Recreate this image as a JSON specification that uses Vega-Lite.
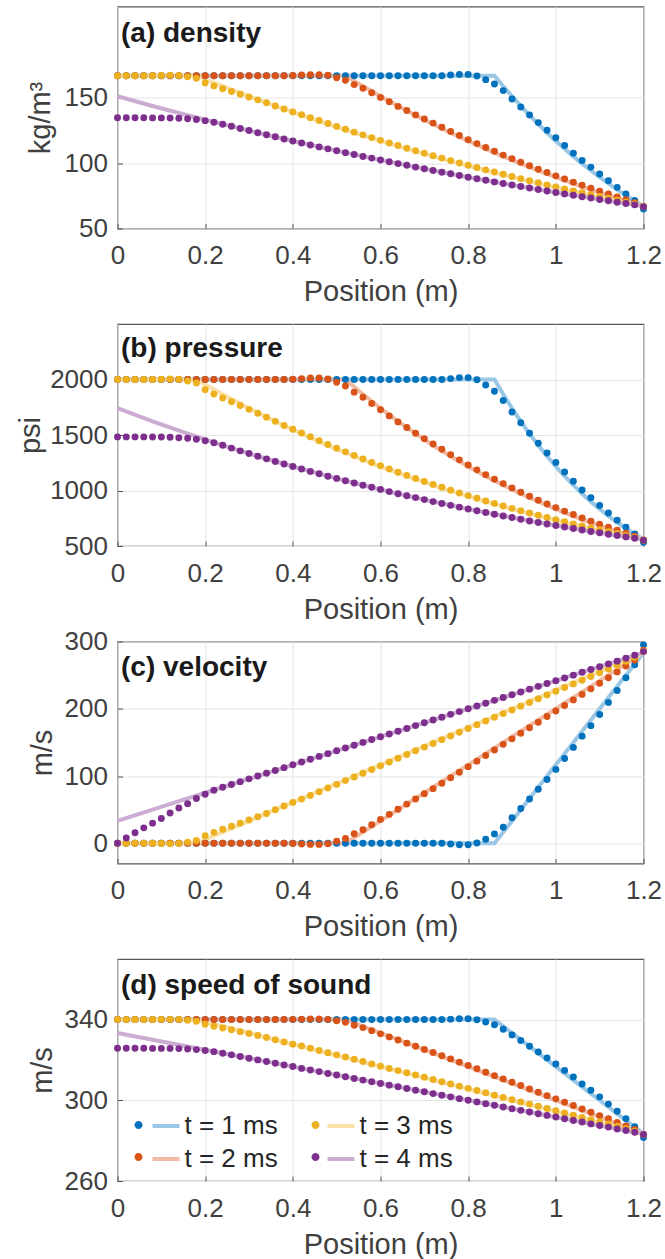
{
"$schema": "https://vega.github.io/schema/vega-lite/v6.json",
"padding": {"left": 15.5, "top": 5.5, "right": 4, "bottom": 0},
"background": "white",
"datasets": {
"lines": [
{"t":1,"x":0,"rho":167,"p":2000,"u":0,"c":340},{"t":1,"x":0.86,"rho":167,"p":2000,"u":0,"c":340},
{"t":1,"x":0.88,"rho":158.97,"p":1866.7,"u":16.67,"c":336.67},{"t":1,"x":0.9,"rho":151.26,"p":1741.1,"u":33.33,"c":333.33},{"t":1,"x":0.92,"rho":143.84,"p":1622.8,"u":50,"c":330},{"t":1,"x":0.94,"rho":136.72,"p":1511.5,"u":66.67,"c":326.67},{"t":1,"x":0.96,"rho":129.89,"p":1406.8,"u":83.33,"c":323.33},{"t":1,"x":0.98,"rho":123.33,"p":1308.4,"u":100,"c":320},{"t":1,"x":1.0,"rho":117.04,"p":1215.9,"u":116.67,"c":316.67},{"t":1,"x":1.02,"rho":111.01,"p":1129.1,"u":133.33,"c":313.33},{"t":1,"x":1.04,"rho":105.23,"p":1047.7,"u":150,"c":310},{"t":1,"x":1.06,"rho":99.69,"p":971.3,"u":166.67,"c":306.67},{"t":1,"x":1.08,"rho":94.39,"p":899.7,"u":183.33,"c":303.33},{"t":1,"x":1.1,"rho":89.31,"p":832.8,"u":200,"c":300},{"t":1,"x":1.12,"rho":84.46,"p":770.1,"u":216.67,"c":296.67},{"t":1,"x":1.14,"rho":79.82,"p":711.6,"u":233.33,"c":293.33},{"t":1,"x":1.16,"rho":75.39,"p":656.8,"u":250,"c":290},{"t":1,"x":1.18,"rho":71.15,"p":605.8,"u":266.67,"c":286.67},{"t":1,"x":1.2,"rho":67.11,"p":558.2,"u":283.33,"c":283.33},
{"t":2,"x":0,"rho":167,"p":2000,"u":0,"c":340},{"t":2,"x":0.52,"rho":167,"p":2000,"u":0,"c":340},
{"t":2,"x":0.56,"rho":158.97,"p":1866.7,"u":16.67,"c":336.67},{"t":2,"x":0.6,"rho":151.26,"p":1741.1,"u":33.33,"c":333.33},{"t":2,"x":0.64,"rho":143.84,"p":1622.8,"u":50,"c":330},{"t":2,"x":0.68,"rho":136.72,"p":1511.5,"u":66.67,"c":326.67},{"t":2,"x":0.72,"rho":129.89,"p":1406.8,"u":83.33,"c":323.33},{"t":2,"x":0.76,"rho":123.33,"p":1308.4,"u":100,"c":320},{"t":2,"x":0.8,"rho":117.04,"p":1215.9,"u":116.67,"c":316.67},{"t":2,"x":0.84,"rho":111.01,"p":1129.1,"u":133.33,"c":313.33},{"t":2,"x":0.88,"rho":105.23,"p":1047.7,"u":150,"c":310},{"t":2,"x":0.92,"rho":99.69,"p":971.3,"u":166.67,"c":306.67},{"t":2,"x":0.96,"rho":94.39,"p":899.7,"u":183.33,"c":303.33},{"t":2,"x":1.0,"rho":89.31,"p":832.8,"u":200,"c":300},{"t":2,"x":1.04,"rho":84.46,"p":770.1,"u":216.67,"c":296.67},{"t":2,"x":1.08,"rho":79.82,"p":711.6,"u":233.33,"c":293.33},{"t":2,"x":1.12,"rho":75.39,"p":656.8,"u":250,"c":290},{"t":2,"x":1.16,"rho":71.15,"p":605.8,"u":266.67,"c":286.67},{"t":2,"x":1.2,"rho":67.11,"p":558.2,"u":283.33,"c":283.33},
{"t":3,"x":0,"rho":167,"p":2000,"u":0,"c":340},{"t":3,"x":0.18,"rho":167,"p":2000,"u":0,"c":340},
{"t":3,"x":0.24,"rho":158.97,"p":1866.7,"u":16.67,"c":336.67},{"t":3,"x":0.3,"rho":151.26,"p":1741.1,"u":33.33,"c":333.33},{"t":3,"x":0.36,"rho":143.84,"p":1622.8,"u":50,"c":330},{"t":3,"x":0.42,"rho":136.72,"p":1511.5,"u":66.67,"c":326.67},{"t":3,"x":0.48,"rho":129.89,"p":1406.8,"u":83.33,"c":323.33},{"t":3,"x":0.54,"rho":123.33,"p":1308.4,"u":100,"c":320},{"t":3,"x":0.6,"rho":117.04,"p":1215.9,"u":116.67,"c":316.67},{"t":3,"x":0.66,"rho":111.01,"p":1129.1,"u":133.33,"c":313.33},{"t":3,"x":0.72,"rho":105.23,"p":1047.7,"u":150,"c":310},{"t":3,"x":0.78,"rho":99.69,"p":971.3,"u":166.67,"c":306.67},{"t":3,"x":0.84,"rho":94.39,"p":899.7,"u":183.33,"c":303.33},{"t":3,"x":0.9,"rho":89.31,"p":832.8,"u":200,"c":300},{"t":3,"x":0.96,"rho":84.46,"p":770.1,"u":216.67,"c":296.67},{"t":3,"x":1.02,"rho":79.82,"p":711.6,"u":233.33,"c":293.33},{"t":3,"x":1.08,"rho":75.39,"p":656.8,"u":250,"c":290},{"t":3,"x":1.14,"rho":71.15,"p":605.8,"u":266.67,"c":286.67},{"t":3,"x":1.2,"rho":67.11,"p":558.2,"u":283.33,"c":283.33},
{"t":4,"x":0,"rho":151.26,"p":1741.1,"u":33.33,"c":333.33},{"t":4,"x":0.08,"rho":143.84,"p":1622.8,"u":50,"c":330},{"t":4,"x":0.16,"rho":136.72,"p":1511.5,"u":66.67,"c":326.67},{"t":4,"x":0.24,"rho":129.89,"p":1406.8,"u":83.33,"c":323.33},{"t":4,"x":0.32,"rho":123.33,"p":1308.4,"u":100,"c":320},{"t":4,"x":0.4,"rho":117.04,"p":1215.9,"u":116.67,"c":316.67},{"t":4,"x":0.48,"rho":111.01,"p":1129.1,"u":133.33,"c":313.33},{"t":4,"x":0.56,"rho":105.23,"p":1047.7,"u":150,"c":310},{"t":4,"x":0.64,"rho":99.69,"p":971.3,"u":166.67,"c":306.67},{"t":4,"x":0.72,"rho":94.39,"p":899.7,"u":183.33,"c":303.33},{"t":4,"x":0.8,"rho":89.31,"p":832.8,"u":200,"c":300},{"t":4,"x":0.88,"rho":84.46,"p":770.1,"u":216.67,"c":296.67},{"t":4,"x":0.96,"rho":79.82,"p":711.6,"u":233.33,"c":293.33},{"t":4,"x":1.04,"rho":75.39,"p":656.8,"u":250,"c":290},{"t":4,"x":1.12,"rho":71.15,"p":605.8,"u":266.67,"c":286.67},{"t":4,"x":1.2,"rho":67.11,"p":558.2,"u":283.33,"c":283.33}
],
"markers": [
{"t":1,"x":0,"rho":167,"p":2000,"u":0,"c":340},{"t":1,"x":0.02,"rho":167,"p":2000,"u":0,"c":340},{"t":1,"x":0.04,"rho":167,"p":2000,"u":0,"c":340},{"t":1,"x":0.06,"rho":167,"p":2000,"u":0,"c":340},{"t":1,"x":0.08,"rho":167,"p":2000,"u":0,"c":340},{"t":1,"x":0.1,"rho":167,"p":2000,"u":0,"c":340},{"t":1,"x":0.12,"rho":167,"p":2000,"u":0,"c":340},{"t":1,"x":0.14,"rho":167,"p":2000,"u":0,"c":340},{"t":1,"x":0.16,"rho":167,"p":2000,"u":0,"c":340},{"t":1,"x":0.18,"rho":167,"p":2000,"u":0,"c":340},{"t":1,"x":0.2,"rho":167,"p":2000,"u":0,"c":340},{"t":1,"x":0.22,"rho":167,"p":2000,"u":0,"c":340},{"t":1,"x":0.24,"rho":167,"p":2000,"u":0,"c":340},{"t":1,"x":0.26,"rho":167,"p":2000,"u":0,"c":340},{"t":1,"x":0.28,"rho":167,"p":2000,"u":0,"c":340},{"t":1,"x":0.3,"rho":167,"p":2000,"u":0,"c":340},{"t":1,"x":0.32,"rho":167,"p":2000,"u":0,"c":340},{"t":1,"x":0.34,"rho":167,"p":2000,"u":0,"c":340},{"t":1,"x":0.36,"rho":167,"p":2000,"u":0,"c":340},{"t":1,"x":0.38,"rho":167,"p":2000,"u":0,"c":340},{"t":1,"x":0.4,"rho":167,"p":2000,"u":0,"c":340},{"t":1,"x":0.42,"rho":167,"p":2000,"u":0,"c":340},{"t":1,"x":0.44,"rho":167,"p":2000,"u":0,"c":340},{"t":1,"x":0.46,"rho":167,"p":2000,"u":0,"c":340},{"t":1,"x":0.48,"rho":167,"p":2000,"u":0,"c":340},{"t":1,"x":0.5,"rho":167,"p":2000,"u":0,"c":340},{"t":1,"x":0.52,"rho":167,"p":2000,"u":0,"c":340},{"t":1,"x":0.54,"rho":167,"p":2000,"u":0,"c":340},{"t":1,"x":0.56,"rho":167,"p":2000,"u":0,"c":340},{"t":1,"x":0.58,"rho":167,"p":2000,"u":0,"c":340},{"t":1,"x":0.6,"rho":167,"p":2000,"u":0,"c":340},{"t":1,"x":0.62,"rho":167,"p":2000,"u":0,"c":340},{"t":1,"x":0.64,"rho":167,"p":2000,"u":0,"c":340},{"t":1,"x":0.66,"rho":167,"p":2000,"u":0,"c":340},{"t":1,"x":0.68,"rho":167,"p":2000,"u":0,"c":340},{"t":1,"x":0.7,"rho":167,"p":2000,"u":0,"c":340},{"t":1,"x":0.72,"rho":167,"p":2000,"u":0,"c":340},{"t":1,"x":0.74,"rho":167,"p":2000,"u":0,"c":340},
{"t":1,"x":0.76,"rho":167.5,"p":2008,"u":-1.0,"c":340.2},{"t":1,"x":0.78,"rho":168.0,"p":2017,"u":-2.0,"c":340.4},{"t":1,"x":0.8,"rho":168.0,"p":2017,"u":-2.0,"c":340.4},{"t":1,"x":0.82,"rho":166.8,"p":1997,"u":0.4,"c":339.9},{"t":1,"x":0.84,"rho":164.0,"p":1950,"u":6.1,"c":338.8},{"t":1,"x":0.86,"rho":160.7,"p":1894,"u":14.0,"c":337.4},{"t":1,"x":0.88,"rho":155.6,"p":1811,"u":24.0,"c":335.2},{"t":1,"x":0.9,"rho":149.2,"p":1707,"u":37.9,"c":332.4},{"t":1,"x":0.92,"rho":143.0,"p":1610,"u":51.8,"c":329.6},{"t":1,"x":0.94,"rho":137.0,"p":1516,"u":66.0,"c":326.8},{"t":1,"x":0.96,"rho":131.1,"p":1425,"u":80.3,"c":323.9},{"t":1,"x":0.98,"rho":125.3,"p":1338,"u":94.8,"c":321.0},{"t":1,"x":1.0,"rho":119.5,"p":1252,"u":109.9,"c":318.0},{"t":1,"x":1.02,"rho":113.6,"p":1166,"u":126.0,"c":314.8},{"t":1,"x":1.04,"rho":107.7,"p":1083,"u":142.6,"c":311.5},{"t":1,"x":1.06,"rho":102.1,"p":1004,"u":159.3,"c":308.1},{"t":1,"x":1.08,"rho":97.0,"p":934,"u":174.9,"c":305.0},{"t":1,"x":1.1,"rho":91.8,"p":865,"u":191.6,"c":301.7},{"t":1,"x":1.12,"rho":86.6,"p":797,"u":209.3,"c":298.1},{"t":1,"x":1.14,"rho":81.5,"p":733,"u":227.1,"c":294.6},{"t":1,"x":1.16,"rho":76.4,"p":669,"u":246.2,"c":290.8},{"t":1,"x":1.18,"rho":71.5,"p":609,"u":265.5,"c":286.9},{"t":1,"x":1.2,"rho":64.9,"p":533,"u":295.0,"c":281.5},
{"t":2,"x":0,"rho":167,"p":2000,"u":0,"c":340},{"t":2,"x":0.02,"rho":167,"p":2000,"u":0,"c":340},{"t":2,"x":0.04,"rho":167,"p":2000,"u":0,"c":340},{"t":2,"x":0.06,"rho":167,"p":2000,"u":0,"c":340},{"t":2,"x":0.08,"rho":167,"p":2000,"u":0,"c":340},{"t":2,"x":0.1,"rho":167,"p":2000,"u":0,"c":340},{"t":2,"x":0.12,"rho":167,"p":2000,"u":0,"c":340},{"t":2,"x":0.14,"rho":167,"p":2000,"u":0,"c":340},{"t":2,"x":0.16,"rho":167,"p":2000,"u":0,"c":340},{"t":2,"x":0.18,"rho":167,"p":2000,"u":0,"c":340},{"t":2,"x":0.2,"rho":167,"p":2000,"u":0,"c":340},{"t":2,"x":0.22,"rho":167,"p":2000,"u":0,"c":340},{"t":2,"x":0.24,"rho":167,"p":2000,"u":0,"c":340},{"t":2,"x":0.26,"rho":167,"p":2000,"u":0,"c":340},{"t":2,"x":0.28,"rho":167,"p":2000,"u":0,"c":340},{"t":2,"x":0.3,"rho":167,"p":2000,"u":0,"c":340},{"t":2,"x":0.32,"rho":167,"p":2000,"u":0,"c":340},{"t":2,"x":0.34,"rho":167,"p":2000,"u":0,"c":340},{"t":2,"x":0.36,"rho":167,"p":2000,"u":0,"c":340},{"t":2,"x":0.38,"rho":167,"p":2000,"u":0,"c":340},
{"t":2,"x":0.4,"rho":167.2,"p":2003,"u":-0.4,"c":340.1},{"t":2,"x":0.42,"rho":167.5,"p":2008,"u":-1.0,"c":340.2},{"t":2,"x":0.44,"rho":167.8,"p":2013,"u":-1.6,"c":340.3},{"t":2,"x":0.46,"rho":167.8,"p":2013,"u":-1.6,"c":340.3},{"t":2,"x":0.48,"rho":167.3,"p":2005,"u":-0.6,"c":340.1},{"t":2,"x":0.5,"rho":165.5,"p":1975,"u":3.1,"c":339.4},{"t":2,"x":0.52,"rho":163.5,"p":1941,"u":7.1,"c":338.6},{"t":2,"x":0.54,"rho":160.2,"p":1886,"u":14.1,"c":337.2},{"t":2,"x":0.56,"rho":157.4,"p":1840,"u":20.1,"c":336.0},{"t":2,"x":0.58,"rho":153.9,"p":1784,"u":27.6,"c":334.5},{"t":2,"x":0.6,"rho":150.4,"p":1727,"u":35.3,"c":332.9},{"t":2,"x":0.62,"rho":147.0,"p":1672,"u":43.0,"c":331.4},{"t":2,"x":0.64,"rho":143.5,"p":1618,"u":50.7,"c":329.9},{"t":2,"x":0.66,"rho":140.3,"p":1567,"u":58.3,"c":328.3},{"t":2,"x":0.68,"rho":137.0,"p":1516,"u":66.0,"c":326.8},{"t":2,"x":0.7,"rho":133.8,"p":1466,"u":73.8,"c":325.2},{"t":2,"x":0.72,"rho":130.7,"p":1419,"u":81.3,"c":323.7},{"t":2,"x":0.74,"rho":127.5,"p":1371,"u":89.4,"c":322.1},{"t":2,"x":0.76,"rho":124.3,"p":1323,"u":97.4,"c":320.5},{"t":2,"x":0.78,"rho":121.2,"p":1276,"u":105.7,"c":318.9},{"t":2,"x":0.8,"rho":118.0,"p":1230,"u":114.0,"c":317.2},{"t":2,"x":0.82,"rho":115.0,"p":1186,"u":122.2,"c":315.6},{"t":2,"x":0.84,"rho":112.0,"p":1143,"u":130.5,"c":313.9},{"t":2,"x":0.86,"rho":109.1,"p":1102,"u":138.8,"c":312.2},{"t":2,"x":0.88,"rho":106.2,"p":1062,"u":147.1,"c":310.6},{"t":2,"x":0.9,"rho":103.5,"p":1023,"u":155.3,"c":308.9},{"t":2,"x":0.92,"rho":100.7,"p":985,"u":163.6,"c":307.3},{"t":2,"x":0.94,"rho":98.0,"p":949,"u":171.9,"c":305.6},{"t":2,"x":0.96,"rho":95.4,"p":913,"u":180.1,"c":304.0},{"t":2,"x":0.98,"rho":92.9,"p":879,"u":188.4,"c":302.3},{"t":2,"x":1.0,"rho":90.3,"p":846,"u":196.6,"c":300.7},{"t":2,"x":1.02,"rho":87.9,"p":814,"u":204.9,"c":299.0},{"t":2,"x":1.04,"rho":85.5,"p":783,"u":213.2,"c":297.4},{"t":2,"x":1.06,"rho":83.1,"p":753,"u":221.4,"c":295.7},{"t":2,"x":1.08,"rho":80.8,"p":724,"u":229.6,"c":294.1},{"t":2,"x":1.1,"rho":78.6,"p":696,"u":237.9,"c":292.4},{"t":2,"x":1.12,"rho":76.4,"p":669,"u":246.2,"c":290.8},{"t":2,"x":1.14,"rho":74.2,"p":642,"u":254.8,"c":289.0},{"t":2,"x":1.16,"rho":72.0,"p":615,"u":263.4,"c":287.3},{"t":2,"x":1.18,"rho":69.7,"p":589,"u":272.5,"c":285.5},{"t":2,"x":1.2,"rho":66.6,"p":552,"u":287.0,"c":282.9},
{"t":3,"x":0,"rho":167,"p":2000,"u":0,"c":340},{"t":3,"x":0.02,"rho":167,"p":2000,"u":0,"c":340},{"t":3,"x":0.04,"rho":167,"p":2000,"u":0,"c":340},{"t":3,"x":0.06,"rho":167,"p":2000,"u":0,"c":340},{"t":3,"x":0.08,"rho":167,"p":2000,"u":0,"c":340},
{"t":3,"x":0.1,"rho":167.2,"p":2003,"u":-0.4,"c":340.1},{"t":3,"x":0.12,"rho":167.3,"p":2005,"u":-0.6,"c":340.1},{"t":3,"x":0.14,"rho":167.2,"p":2003,"u":-0.4,"c":340.1},{"t":3,"x":0.16,"rho":166.2,"p":1987,"u":1.6,"c":339.7},{"t":3,"x":0.18,"rho":165.0,"p":1968,"u":4.1,"c":339.2},{"t":3,"x":0.2,"rho":161.5,"p":1908,"u":11.3,"c":337.7},{"t":3,"x":0.22,"rho":159.2,"p":1869,"u":16.3,"c":336.7},{"t":3,"x":0.24,"rho":157.0,"p":1834,"u":20.9,"c":335.8},{"t":3,"x":0.26,"rho":154.9,"p":1800,"u":25.4,"c":334.9},{"t":3,"x":0.28,"rho":152.8,"p":1766,"u":30.0,"c":334.0},{"t":3,"x":0.3,"rho":150.7,"p":1731,"u":34.6,"c":333.1},{"t":3,"x":0.32,"rho":148.5,"p":1696,"u":39.6,"c":332.1},{"t":3,"x":0.34,"rho":146.3,"p":1661,"u":44.4,"c":331.1},{"t":3,"x":0.36,"rho":143.8,"p":1623,"u":50.0,"c":330.0},{"t":3,"x":0.38,"rho":141.5,"p":1585,"u":55.6,"c":328.9},{"t":3,"x":0.4,"rho":139.3,"p":1551,"u":60.6,"c":327.8},{"t":3,"x":0.42,"rho":137.1,"p":1518,"u":65.7,"c":326.9},{"t":3,"x":0.44,"rho":134.9,"p":1484,"u":71.0,"c":325.8},{"t":3,"x":0.46,"rho":132.7,"p":1449,"u":76.6,"c":324.7},{"t":3,"x":0.48,"rho":130.4,"p":1414,"u":82.1,"c":323.6},{"t":3,"x":0.5,"rho":128.2,"p":1381,"u":87.6,"c":322.5},{"t":3,"x":0.52,"rho":126.0,"p":1348,"u":93.2,"c":321.4},{"t":3,"x":0.54,"rho":123.8,"p":1316,"u":98.7,"c":320.3},{"t":3,"x":0.56,"rho":121.7,"p":1284,"u":104.2,"c":319.2},{"t":3,"x":0.58,"rho":119.6,"p":1253,"u":109.8,"c":318.0},{"t":3,"x":0.6,"rho":117.5,"p":1223,"u":115.3,"c":316.9},{"t":3,"x":0.62,"rho":115.5,"p":1194,"u":120.8,"c":315.8},{"t":3,"x":0.64,"rho":113.5,"p":1165,"u":126.4,"c":314.7},{"t":3,"x":0.66,"rho":111.5,"p":1136,"u":131.9,"c":313.6},{"t":3,"x":0.68,"rho":109.6,"p":1109,"u":137.5,"c":312.5},{"t":3,"x":0.7,"rho":107.7,"p":1081,"u":143.0,"c":311.4},{"t":3,"x":0.72,"rho":105.7,"p":1055,"u":148.5,"c":310.3},{"t":3,"x":0.74,"rho":103.9,"p":1029,"u":154.1,"c":309.2},{"t":3,"x":0.76,"rho":102.0,"p":1003,"u":159.6,"c":308.1},{"t":3,"x":0.78,"rho":100.2,"p":978,"u":165.1,"c":307.0},{"t":3,"x":0.8,"rho":98.4,"p":954,"u":170.7,"c":305.9},{"t":3,"x":0.82,"rho":96.7,"p":930,"u":176.2,"c":304.8},{"t":3,"x":0.84,"rho":94.9,"p":906,"u":181.7,"c":303.7},{"t":3,"x":0.86,"rho":93.2,"p":884,"u":187.3,"c":302.5},{"t":3,"x":0.88,"rho":91.5,"p":861,"u":192.8,"c":301.4},{"t":3,"x":0.9,"rho":89.8,"p":839,"u":198.3,"c":300.3},{"t":3,"x":0.92,"rho":88.2,"p":818,"u":203.9,"c":299.2},{"t":3,"x":0.94,"rho":86.6,"p":797,"u":209.4,"c":298.1},{"t":3,"x":0.96,"rho":85.0,"p":777,"u":214.9,"c":297.0},{"t":3,"x":0.98,"rho":83.4,"p":757,"u":220.4,"c":295.9},{"t":3,"x":1.0,"rho":81.9,"p":737,"u":226.0,"c":294.8},{"t":3,"x":1.02,"rho":80.3,"p":718,"u":231.5,"c":293.7},{"t":3,"x":1.04,"rho":78.8,"p":699,"u":237.0,"c":292.6},{"t":3,"x":1.06,"rho":77.4,"p":681,"u":242.5,"c":291.5},{"t":3,"x":1.08,"rho":75.9,"p":663,"u":248.1,"c":290.4},{"t":3,"x":1.1,"rho":74.5,"p":646,"u":253.6,"c":289.3},{"t":3,"x":1.12,"rho":73.1,"p":628,"u":259.1,"c":288.2},{"t":3,"x":1.14,"rho":71.7,"p":612,"u":264.7,"c":287.1},{"t":3,"x":1.16,"rho":70.2,"p":594,"u":270.6,"c":285.9},{"t":3,"x":1.18,"rho":68.8,"p":577,"u":276.5,"c":284.7},{"t":3,"x":1.2,"rho":66.8,"p":555,"u":285.5,"c":283.1},
{"t":4,"x":0,"rho":134.8,"p":1483,"u":0,"c":325.8},{"t":4,"x":0.02,"rho":134.8,"p":1483,"u":7.9,"c":325.8},{"t":4,"x":0.04,"rho":134.8,"p":1483,"u":15.8,"c":325.8},{"t":4,"x":0.06,"rho":134.8,"p":1483,"u":23.0,"c":325.8},{"t":4,"x":0.08,"rho":134.7,"p":1482,"u":30.0,"c":325.7},{"t":4,"x":0.1,"rho":134.7,"p":1482,"u":37.0,"c":325.7},{"t":4,"x":0.12,"rho":134.6,"p":1479,"u":45.0,"c":325.7},{"t":4,"x":0.14,"rho":134.4,"p":1476,"u":52.5,"c":325.6},{"t":4,"x":0.16,"rho":134.1,"p":1471,"u":59.0,"c":325.4},{"t":4,"x":0.18,"rho":133.5,"p":1462,"u":66.5,"c":325.1},{"t":4,"x":0.2,"rho":132.6,"p":1448,"u":73.0,"c":324.7},{"t":4,"x":0.22,"rho":131.4,"p":1430,"u":79.0,"c":324.1},
{"t":4,"x":0.24,"rho":129.9,"p":1407,"u":83.3,"c":323.3},{"t":4,"x":0.26,"rho":128.3,"p":1382,"u":87.5,"c":322.5},{"t":4,"x":0.28,"rho":126.6,"p":1357,"u":91.7,"c":321.7},{"t":4,"x":0.3,"rho":125.0,"p":1333,"u":95.8,"c":320.8},{"t":4,"x":0.32,"rho":123.3,"p":1308,"u":100.0,"c":320.0},{"t":4,"x":0.34,"rho":121.8,"p":1285,"u":104.2,"c":319.2},{"t":4,"x":0.36,"rho":120.2,"p":1262,"u":108.3,"c":318.3},{"t":4,"x":0.38,"rho":118.6,"p":1239,"u":112.5,"c":317.5},{"t":4,"x":0.4,"rho":117.0,"p":1216,"u":116.7,"c":316.7},{"t":4,"x":0.42,"rho":115.5,"p":1194,"u":120.8,"c":315.8},{"t":4,"x":0.44,"rho":114.0,"p":1172,"u":125.0,"c":315.0},{"t":4,"x":0.46,"rho":112.5,"p":1151,"u":129.2,"c":314.2},{"t":4,"x":0.48,"rho":111.0,"p":1129,"u":133.3,"c":313.3},{"t":4,"x":0.5,"rho":109.6,"p":1109,"u":137.5,"c":312.5},{"t":4,"x":0.52,"rho":108.1,"p":1088,"u":141.7,"c":311.7},{"t":4,"x":0.54,"rho":106.7,"p":1068,"u":145.8,"c":310.8},{"t":4,"x":0.56,"rho":105.2,"p":1048,"u":150.0,"c":310.0},{"t":4,"x":0.58,"rho":103.9,"p":1029,"u":154.2,"c":309.2},{"t":4,"x":0.6,"rho":102.5,"p":1010,"u":158.3,"c":308.3},{"t":4,"x":0.62,"rho":101.1,"p":990,"u":162.5,"c":307.5},{"t":4,"x":0.64,"rho":99.7,"p":971,"u":166.7,"c":306.7},{"t":4,"x":0.66,"rho":98.4,"p":953,"u":170.8,"c":305.8},{"t":4,"x":0.68,"rho":97.0,"p":936,"u":175.0,"c":305.0},{"t":4,"x":0.7,"rho":95.7,"p":918,"u":179.2,"c":304.2},{"t":4,"x":0.72,"rho":94.4,"p":900,"u":183.3,"c":303.3},{"t":4,"x":0.74,"rho":93.1,"p":883,"u":187.5,"c":302.5},{"t":4,"x":0.76,"rho":91.9,"p":866,"u":191.7,"c":301.7},{"t":4,"x":0.78,"rho":90.6,"p":850,"u":195.8,"c":300.8},{"t":4,"x":0.8,"rho":89.3,"p":833,"u":200.0,"c":300.0},{"t":4,"x":0.82,"rho":88.1,"p":817,"u":204.2,"c":299.2},{"t":4,"x":0.84,"rho":86.9,"p":801,"u":208.3,"c":298.3},{"t":4,"x":0.86,"rho":85.7,"p":786,"u":212.5,"c":297.5},{"t":4,"x":0.88,"rho":84.5,"p":770,"u":216.7,"c":296.7},{"t":4,"x":0.9,"rho":83.3,"p":756,"u":220.8,"c":295.8},{"t":4,"x":0.92,"rho":82.1,"p":741,"u":225.0,"c":295.0},{"t":4,"x":0.94,"rho":81.0,"p":726,"u":229.2,"c":294.2},{"t":4,"x":0.96,"rho":79.8,"p":712,"u":233.3,"c":293.3},{"t":4,"x":0.98,"rho":78.7,"p":698,"u":237.5,"c":292.5},{"t":4,"x":1.0,"rho":77.6,"p":684,"u":241.7,"c":291.7},{"t":4,"x":1.02,"rho":76.5,"p":671,"u":245.8,"c":290.8},{"t":4,"x":1.04,"rho":75.4,"p":657,"u":250.0,"c":290.0},{"t":4,"x":1.06,"rho":74.3,"p":644,"u":254.2,"c":289.2},{"t":4,"x":1.08,"rho":73.3,"p":631,"u":258.3,"c":288.3},{"t":4,"x":1.1,"rho":72.2,"p":619,"u":262.5,"c":287.5},{"t":4,"x":1.12,"rho":71.2,"p":606,"u":266.7,"c":286.7},{"t":4,"x":1.14,"rho":70.1,"p":594,"u":270.8,"c":285.8},{"t":4,"x":1.16,"rho":69.1,"p":582,"u":275.0,"c":285.0},{"t":4,"x":1.18,"rho":68.1,"p":570,"u":279.6,"c":284.2},{"t":4,"x":1.2,"rho":66.6,"p":553,"u":285.0,"c":283.0}
]
},
"vconcat": [
{
"width": 526, "height": 222,
"layer": [
{"data": {"name": "lines"}, "mark": {"type": "line", "strokeWidth": 4}, "encoding": {
"x": {"field": "x", "type": "quantitative", "scale": {"domain": [0, 1.2], "nice": false, "zero": false}, "axis": {"values": [0, 0.2, 0.4, 0.6, 0.8, 1, 1.2], "format": "~g", "title": "Position (m)", "labelPadding": 40, "labelBaseline": "alphabetic", "labelFlush": false, "labelOverlap": false, "titleY": 72, "titleBaseline": "alphabetic"}},
"y": {"field": "rho", "type": "quantitative", "scale": {"domain": [50, 220], "nice": false, "zero": false}, "axis": {"values": [50, 100, 150], "format": "d", "title": "kg/m³", "labelPadding": 15, "labelFlush": false, "labelOverlap": false, "titleX": -77, "titleY": 111, "titleAngle": -90, "titleBaseline": "middle", "titleAlign": "center"}},
"stroke": {"field": "t", "type": "nominal", "scale": {"domain": [1, 2, 3, 4], "range": ["#99C7E5", "#F0BAA3", "#F8E0A6", "#CBACD2"]}, "legend": null}}},
{"data": {"name": "markers"}, "mark": {"type": "point", "filled": true, "shape": "circle", "size": 48, "opacity": 1}, "encoding": {
"x": {"field": "x", "type": "quantitative"},
"y": {"field": "rho", "type": "quantitative"},
"fill": {"field": "t", "type": "nominal", "scale": {"range": ["#0072BD", "#D95319", "#EDB120", "#7E2F8E"]}, "legend": null}}},
{"data": {"values": [{"label": "(a) density"}]}, "mark": {"type": "text", "font": "Liberation Sans", "fontSize": 28, "fontWeight": "bold", "align": "left", "baseline": "alphabetic", "fill": "#1a1a1a"}, "encoding": {"x": {"datum": 0.008}, "y": {"datum": 193}, "text": {"field": "label"}}}
]
},
{
"width": 526, "height": 222,
"layer": [
{"data": {"name": "lines"}, "mark": {"type": "line", "strokeWidth": 4}, "encoding": {
"x": {"field": "x", "type": "quantitative", "scale": {"domain": [0, 1.2], "nice": false, "zero": false}, "axis": {"values": [0, 0.2, 0.4, 0.6, 0.8, 1, 1.2], "format": "~g", "title": "Position (m)", "labelPadding": 40, "labelBaseline": "alphabetic", "labelFlush": false, "labelOverlap": false, "titleY": 72, "titleBaseline": "alphabetic"}},
"y": {"field": "p", "type": "quantitative", "scale": {"domain": [500, 2500], "nice": false, "zero": false}, "axis": {"values": [500, 1000, 1500, 2000], "format": "d", "title": "psi", "labelPadding": 15, "labelFlush": false, "labelOverlap": false, "titleX": -87, "titleY": 111, "titleAngle": -90, "titleBaseline": "middle", "titleAlign": "center"}},
"stroke": {"field": "t", "type": "nominal", "scale": {"domain": [1, 2, 3, 4], "range": ["#99C7E5", "#F0BAA3", "#F8E0A6", "#CBACD2"]}, "legend": null}}},
{"data": {"name": "markers"}, "mark": {"type": "point", "filled": true, "shape": "circle", "size": 48, "opacity": 1}, "encoding": {
"x": {"field": "x", "type": "quantitative"},
"y": {"field": "p", "type": "quantitative"},
"fill": {"field": "t", "type": "nominal", "scale": {"range": ["#0072BD", "#D95319", "#EDB120", "#7E2F8E"]}, "legend": null}}},
{"data": {"values": [{"label": "(b) pressure"}]}, "mark": {"type": "text", "font": "Liberation Sans", "fontSize": 28, "fontWeight": "bold", "align": "left", "baseline": "alphabetic", "fill": "#1a1a1a"}, "encoding": {"x": {"datum": 0.008}, "y": {"datum": 2200}, "text": {"field": "label"}}}
]
},
{
"width": 526, "height": 222,
"layer": [
{"data": {"name": "lines"}, "mark": {"type": "line", "strokeWidth": 4}, "encoding": {
"x": {"field": "x", "type": "quantitative", "scale": {"domain": [0, 1.2], "nice": false, "zero": false}, "axis": {"values": [0, 0.2, 0.4, 0.6, 0.8, 1, 1.2], "format": "~g", "title": "Position (m)", "labelPadding": 40, "labelBaseline": "alphabetic", "labelFlush": false, "labelOverlap": false, "titleY": 72, "titleBaseline": "alphabetic"}},
"y": {"field": "u", "type": "quantitative", "scale": {"domain": [-30, 300], "nice": false, "zero": false}, "axis": {"values": [0, 100, 200, 300], "format": "d", "title": "m/s", "labelPadding": 15, "labelFlush": false, "labelOverlap": false, "titleX": -75, "titleY": 111, "titleAngle": -90, "titleBaseline": "middle", "titleAlign": "center"}},
"stroke": {"field": "t", "type": "nominal", "scale": {"domain": [1, 2, 3, 4], "range": ["#99C7E5", "#F0BAA3", "#F8E0A6", "#CBACD2"]}, "legend": null}}},
{"data": {"name": "markers"}, "mark": {"type": "point", "filled": true, "shape": "circle", "size": 48, "opacity": 1}, "encoding": {
"x": {"field": "x", "type": "quantitative"},
"y": {"field": "u", "type": "quantitative"},
"fill": {"field": "t", "type": "nominal", "scale": {"range": ["#0072BD", "#D95319", "#EDB120", "#7E2F8E"]}, "legend": null}}},
{"data": {"values": [{"label": "(c) velocity"}]}, "mark": {"type": "text", "font": "Liberation Sans", "fontSize": 28, "fontWeight": "bold", "align": "left", "baseline": "alphabetic", "fill": "#1a1a1a"}, "encoding": {"x": {"datum": 0.008}, "y": {"datum": 248.5}, "text": {"field": "label"}}}
]
},
{
"width": 526, "height": 222,
"layer": [
{"data": {"name": "lines"}, "mark": {"type": "line", "strokeWidth": 4}, "encoding": {
"x": {"field": "x", "type": "quantitative", "scale": {"domain": [0, 1.2], "nice": false, "zero": false}, "axis": {"values": [0, 0.2, 0.4, 0.6, 0.8, 1, 1.2], "format": "~g", "title": "Position (m)", "labelPadding": 40, "labelBaseline": "alphabetic", "labelFlush": false, "labelOverlap": false, "titleY": 72, "titleBaseline": "alphabetic"}},
"y": {"field": "c", "type": "quantitative", "scale": {"domain": [260, 370], "nice": false, "zero": false}, "axis": {"values": [260, 300, 340], "format": "d", "title": "m/s", "labelPadding": 15, "labelFlush": false, "labelOverlap": false, "titleX": -75, "titleY": 111, "titleAngle": -90, "titleBaseline": "middle", "titleAlign": "center"}},
"stroke": {"field": "t", "type": "nominal", "scale": {"domain": [1, 2, 3, 4], "range": ["#99C7E5", "#F0BAA3", "#F8E0A6", "#CBACD2"]}, "legend": {"orient": "none", "legendX": 21, "legendY": 153, "columns": 2, "title": null, "padding": 0, "symbolType": "M 0 0 L 2.25 0", "symbolSize": 576, "symbolStrokeWidth": 4, "symbolFillColor": "transparent", "labelFont": "Liberation Sans", "labelFontSize": 26, "labelColor": "#262626", "labelOffset": 18, "rowPadding": 6, "columnPadding": 35, "labelExpr": "'t = ' + datum.label + ' ms'"}}}},
{"data": {"name": "markers"}, "mark": {"type": "point", "filled": true, "shape": "circle", "size": 48, "opacity": 1}, "encoding": {
"x": {"field": "x", "type": "quantitative"},
"y": {"field": "c", "type": "quantitative"},
"fill": {"field": "t", "type": "nominal", "scale": {"range": ["#0072BD", "#D95319", "#EDB120", "#7E2F8E"]}, "legend": {"orient": "none", "legendX": 21, "legendY": 153, "columns": 2, "title": null, "padding": 0, "symbolType": "M -1.416 0 A 0.333 0.333 0 1 0 -0.75 0 A 0.333 0.333 0 1 0 -1.416 0 Z", "symbolSize": 576, "symbolStrokeWidth": 0, "symbolOpacity": 1, "labelFont": "Liberation Sans", "labelFontSize": 26, "labelColor": "rgba(0,0,0,0)", "labelOffset": 18, "rowPadding": 6, "columnPadding": 35, "labelExpr": "'t = ' + datum.label + ' ms'"}}}},
{"data": {"values": [{"label": "(d) speed of sound"}]}, "mark": {"type": "text", "font": "Liberation Sans", "fontSize": 28, "fontWeight": "bold", "align": "left", "baseline": "alphabetic", "fill": "#1a1a1a"}, "encoding": {"x": {"datum": 0.008}, "y": {"datum": 352.8}, "text": {"field": "label"}}}
]
}
],
"spacing": 95.5,
"bounds": "flush",
"resolve": {"scale": {"fill": "independent", "stroke": "independent"}, "legend": {"fill": "independent", "stroke": "independent"}},
"config": {
"font": "Liberation Sans",
"view": {"stroke": "#555555", "strokeWidth": 1.2},
"axis": {"grid": true, "gridColor": "#e4e4e4", "gridWidth": 1, "domain": false, "ticks": true, "tickSize": -5, "tickColor": "#555555", "tickWidth": 1, "labelFont": "Liberation Sans", "labelFontSize": 26, "labelColor": "#404040", "titleFont": "Liberation Sans", "titleFontSize": 29, "titleFontWeight": "normal", "titleColor": "#404040"}
}
}
